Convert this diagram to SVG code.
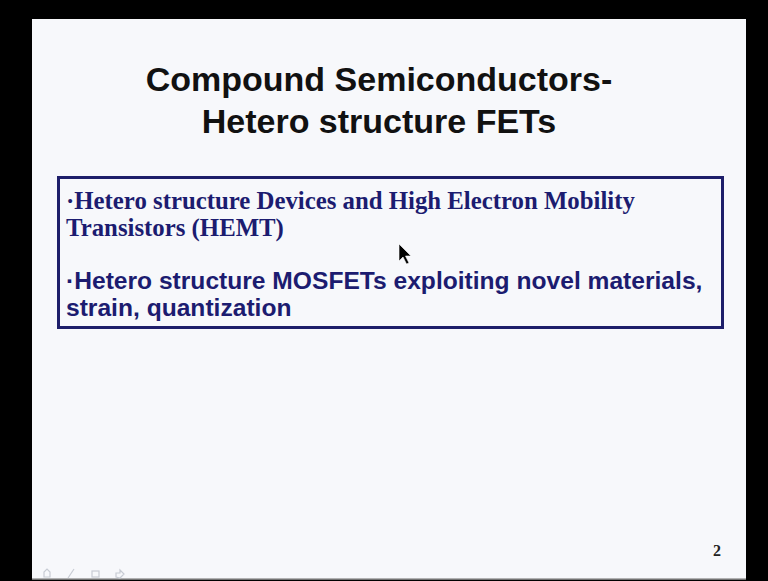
<svg xmlns="http://www.w3.org/2000/svg" width="768" height="581" viewBox="0 0 768 581">
  <style>
    .title { font-family: "Liberation Sans", Arial, sans-serif; font-weight: bold; font-size: 34px; fill: #111111; text-anchor: middle; }
    .serif { font-family: "Liberation Serif", "Times New Roman", serif; font-weight: bold; font-size: 24.8px; fill: #1c1c70; }
    .sans { font-family: "Liberation Sans", Arial, sans-serif; font-weight: bold; font-size: 24.6px; fill: #1c1c70; }
    .num { font-family: "Liberation Serif", "Times New Roman", serif; font-weight: bold; font-size: 16px; fill: #222222; }
    .icon { fill: none; stroke: #c8ccd4; stroke-width: 1.2; }
  </style>
  <rect x="0" y="0" width="768" height="581" fill="#000000"/>
  <rect id="slide" x="32" y="19" width="714" height="560" fill="#f7f8fb"/>
  <line x1="32" y1="579" x2="746" y2="579" stroke="#9a9a9a" stroke-width="1.5"/>

  <g id="title">
    <text class="title" x="379" y="91">Compound Semiconductors-</text>
    <text class="title" x="379" y="133">Hetero structure FETs</text>
  </g>

  <g id="content-box">
    <rect x="58.5" y="177.5" width="664" height="150" fill="none" stroke="#1e1e6a" stroke-width="3"/>
    <text class="serif" x="66" y="209">·Hetero structure Devices and High Electron Mobility</text>
    <text class="serif" x="66" y="236">Transistors (HEMT)</text>
    <text class="sans" x="66" y="289">·Hetero structure MOSFETs exploiting novel materials,</text>
    <text class="sans" x="66" y="316">strain, quantization</text>
  </g>

  <g id="cursor">
    <path d="M399,244 L399,261 L403,257 L406.5,264 L409,263 L405.5,256 L411,256 Z" fill="#000000" stroke="#ffffff" stroke-width="0.6"/>
  </g>

  <g id="page-number">
    <text class="num" x="713" y="556">2</text>
  </g>

  <g id="nav-icons">
    <path class="icon" d="M44,577 L44,572 L47,569 L50,572 L50,577 Z"/>
    <line class="icon" x1="68" y1="578" x2="74" y2="569"/>
    <rect class="icon" x="92" y="571" width="7" height="6"/>
    <path class="icon" d="M116,577 L116,573 L120,573 L120,570 L124,574 L120,578 Z"/>
  </g>
</svg>
